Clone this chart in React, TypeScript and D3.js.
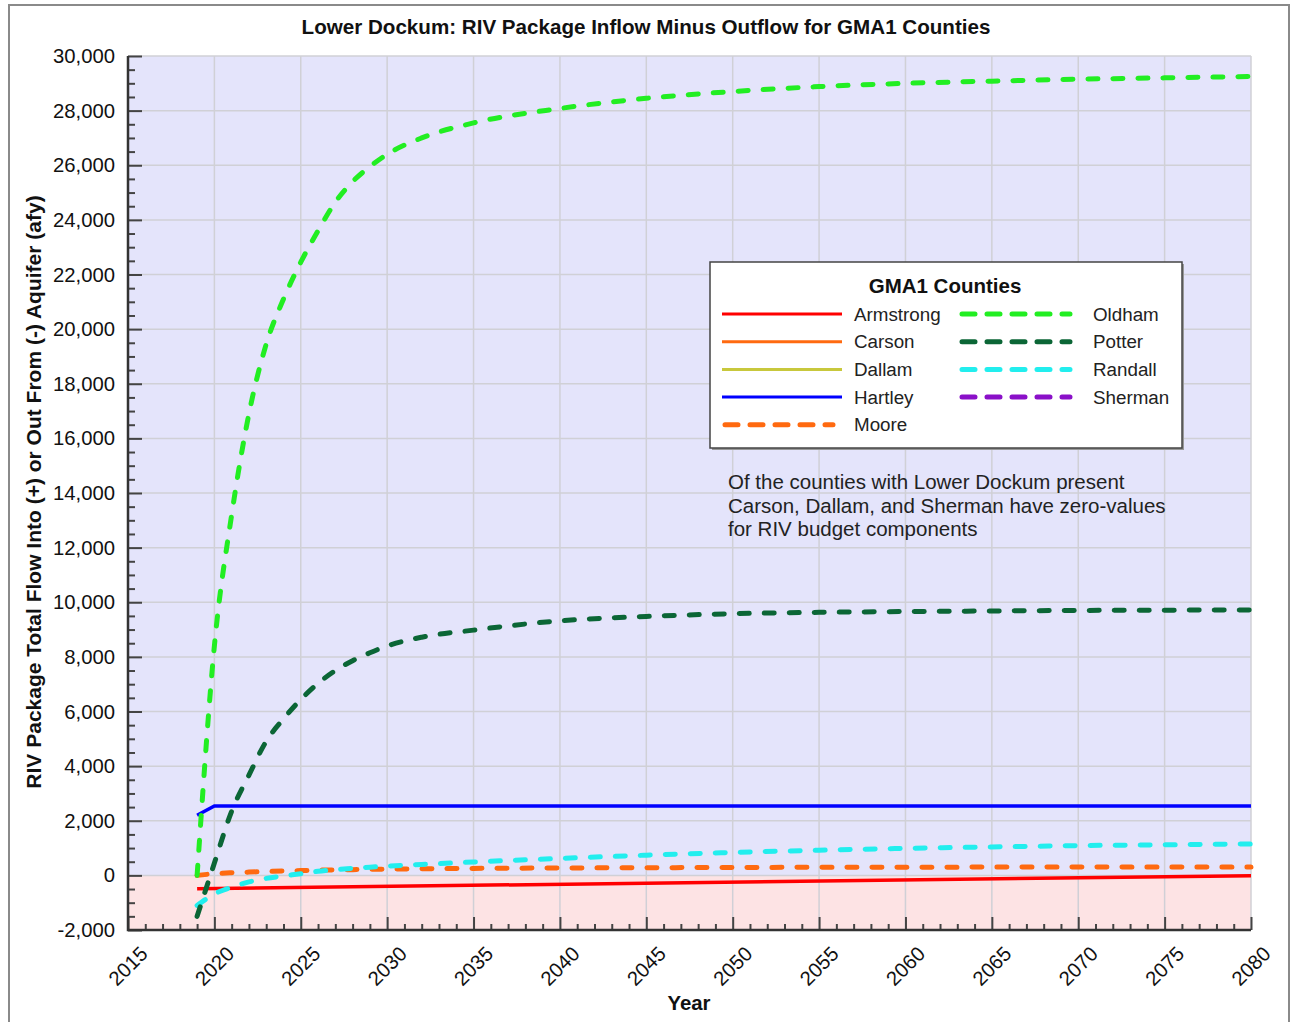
import React, { useEffect, useRef } from 'react'
import * as d3 from 'd3'

// sample years shared by the curved series
const years = [2019, 2020, 2021, 2022, 2023, 2024, 2025, 2026, 2027, 2028, 2029, 2030,
  2032, 2035, 2040, 2045, 2050, 2055, 2060, 2065, 2070, 2075, 2080]

const oldham = [0, 8400, 13200, 16900, 19450, 21100, 22450, 23600, 24650, 25400, 25950, 26400,
  27000, 27550, 28080, 28450, 28700, 28880, 29000, 29080, 29150, 29200, 29250]
const potter = [-1500, 450, 2350, 3670, 4910, 5730, 6440, 7030, 7500, 7860, 8150, 8400,
  8720, 8980, 9320, 9480, 9580, 9630, 9660, 9680, 9700, 9710, 9720]
const randall = [-1100, -680, -430, -240, -110, -20, 60, 150, 210, 260, 300, 340,
  400, 490, 620, 740, 840, 920, 990, 1040, 1090, 1120, 1150]
const moore = [0, 60, 95, 120, 140, 160, 175, 190, 200, 210, 220, 230,
  240, 255, 270, 280, 290, 295, 300, 303, 306, 308, 310]

const armstrongYears = [2019, 2080]
const armstrong = [-490, -10]
const hartleyYears = [2019, 2020, 2080]
const hartley = [2200, 2540, 2540]

const leftLegend = ['Armstrong', 'Carson', 'Dallam', 'Hartley', 'Moore']
const rightLegend = ['Oldham', 'Potter', 'Randall', 'Sherman']

const yTicks = [-2000, 0, 2000, 4000, 6000, 8000, 10000, 12000, 14000, 16000, 18000, 20000,
  22000, 24000, 26000, 28000, 30000]
const xTicks = [2015, 2020, 2025, 2030, 2035, 2040, 2045, 2050, 2055, 2060, 2065, 2070, 2075, 2080]

const noteLines = [
  'Of the counties with Lower Dockum present',
  'Carson, Dallam, and Sherman have zero-values',
  'for RIV budget components',
]

const colors: Record<string, string> = {
  Armstrong: '#ff0000',
  Carson: '#ff6a10',
  Dallam: '#c8c83c',
  Hartley: '#0000ff',
  Moore: '#ff6a10',
  Oldham: '#22ee22',
  Potter: '#0b6636',
  Randall: '#22eeee',
  Sherman: '#8a10c8',
}
const dashed = new Set(['Moore', 'Oldham', 'Potter', 'Randall', 'Sherman'])

const W = 1291
const H = 1022
const FONT = '"Liberation Sans", Arial, Helvetica, sans-serif'

export default function App() {
  const ref = useRef<SVGSVGElement>(null)

  useEffect(() => {
    const svg = d3.select(ref.current)
    svg.selectAll('*').remove()

    const x = d3.scaleLinear().domain([2015, 2080]).range([128, 1251])
    const y = d3.scaleLinear().domain([-2000, 30000]).range([930, 56])

    // outer frame
    svg.append('rect').attr('x', 9).attr('y', 5).attr('width', 1280).attr('height', 1030)
      .attr('fill', 'white').attr('stroke', '#8a8a8a').attr('stroke-width', 2)

    // plot backgrounds
    svg.append('rect').attr('x', x(2015)).attr('y', y(30000))
      .attr('width', x(2080) - x(2015)).attr('height', y(0) - y(30000)).attr('fill', '#e4e4fb')
    svg.append('rect').attr('x', x(2015)).attr('y', y(0))
      .attr('width', x(2080) - x(2015)).attr('height', y(-2000) - y(0)).attr('fill', '#fde3e4')

    // grid
    const grid = svg.append('g').attr('stroke', '#d0d0d6').attr('stroke-width', 1.5)
    grid.selectAll('line.h').data(yTicks.slice(1)).enter().append('line')
      .attr('x1', x(2015)).attr('x2', x(2080)).attr('y1', d => y(d)).attr('y2', d => y(d))
    grid.selectAll('line.v').data(xTicks.slice(1)).enter().append('line')
      .attr('x1', d => x(d)).attr('x2', d => x(d)).attr('y1', y(30000)).attr('y2', y(-2000))

    // axes
    const yAxis = svg.append('g').attr('transform', `translate(${x(2015)},0)`)
      .call(d3.axisRight(y).tickValues(d3.range(-2000, 30001, 500)).tickSize(7).tickFormat(() => ''))
    yAxis.selectAll('.tick line').filter((d: any) => d % 2000 === 0).attr('x2', 14)
    yAxis.selectAll('.tick line').attr('stroke', '#444').attr('stroke-width', 2)
    yAxis.select('.domain').remove()

    const xAxis = svg.append('g').attr('transform', `translate(0,${y(-2000)})`)
      .call(d3.axisTop(x).tickValues(d3.range(2015, 2081, 1)).tickSize(6).tickFormat(() => ''))
    xAxis.selectAll('.tick line').filter((d: any) => d % 5 === 0).attr('y2', -13)
    xAxis.selectAll('.tick line').attr('stroke', '#444').attr('stroke-width', 2)
    xAxis.select('.domain').remove()

    svg.append('path')
      .attr('d', `M${x(2015)},${y(30000)}V${y(-2000)}H${x(2080)}`)
      .attr('fill', 'none').attr('stroke', '#333').attr('stroke-width', 2.5)

    // tick labels
    svg.append('g').selectAll('text').data(yTicks).enter().append('text')
      .attr('x', 115).attr('y', d => y(d)).attr('dy', '0.35em').attr('text-anchor', 'end')
      .attr('font-family', FONT).attr('font-size', 20.3).attr('fill', '#111')
      .text(d => d.toLocaleString('en-US'))

    svg.append('g').selectAll('text').data(xTicks).enter().append('text')
      .attr('transform', d => `translate(${x(d)},${966}) rotate(-45)`)
      .attr('text-anchor', 'middle').attr('dy', '0.35em')
      .attr('font-family', FONT).attr('font-size', 20.3).attr('fill', '#111')
      .text(d => String(d))

    // series
    const smooth = d3.line<[number, number]>().x(d => x(d[0])).y(d => y(d[1])).curve(d3.curveMonotoneX)
    const straight = d3.line<[number, number]>().x(d => x(d[0])).y(d => y(d[1]))
    const series: [string, number[], number[]][] = [
      ['Armstrong', armstrongYears, armstrong],
      ['Hartley', hartleyYears, hartley],
      ['Moore', years, moore],
      ['Randall', years, randall],
      ['Oldham', years, oldham],
      ['Potter', years, potter],
    ]
    series.forEach(([name, xs, vs]) => {
      const pts = xs.map((yr, i) => [yr, vs[i]] as [number, number])
      const p = svg.append('path').datum(pts)
        .attr('fill', 'none').attr('stroke', colors[name])
      if (dashed.has(name)) {
        p.attr('d', smooth).attr('stroke-width', 5).attr('stroke-dasharray', '10 15').attr('stroke-linecap', 'round')
      } else {
        p.attr('d', straight).attr('stroke-width', 3.5)
      }
    })

    // legend
    const lg = svg.append('g')
    lg.append('rect').attr('x', 712).attr('y', 264).attr('width', 472).attr('height', 186).attr('fill', '#999')
    lg.append('rect').attr('x', 710).attr('y', 262).attr('width', 472).attr('height', 186)
      .attr('fill', 'white').attr('stroke', '#444').attr('stroke-width', 1.5)
    lg.append('text').attr('x', 945).attr('y', 293).attr('text-anchor', 'middle')
      .attr('font-family', FONT).attr('font-size', 20.5).attr('font-weight', 'bold').attr('fill', '#111')
      .text('GMA1 Counties')

    const rowY = (i: number) => 314 + i * 27.7
    const drawItem = (name: string, i: number, x1: number, x2: number, tx: number) => {
      const l = lg.append('line').attr('x1', x1).attr('x2', x2).attr('y1', rowY(i)).attr('y2', rowY(i))
        .attr('stroke', colors[name])
      if (dashed.has(name)) {
        l.attr('stroke-width', 5).attr('stroke-dasharray', '13 12').attr('stroke-linecap', 'round')
      } else {
        l.attr('stroke-width', 3)
      }
      lg.append('text').attr('x', tx).attr('y', rowY(i)).attr('dy', '0.35em')
        .attr('font-family', FONT).attr('font-size', 18.8).attr('fill', '#222').text(name)
    }
    leftLegend.forEach((n, i) => drawItem(n, i, n === 'Moore' ? 725 : 722, n === 'Moore' ? 833 : 842, 854))
    rightLegend.forEach((n, i) => drawItem(n, i, 962, 1070, 1093))

    // note
    svg.append('g').selectAll('text').data(noteLines).enter().append('text')
      .attr('x', 728).attr('y', (_, i) => 489 + i * 23.5)
      .attr('font-family', FONT).attr('font-size', 20.5).attr('fill', '#222')
      .text(d => d)

    // titles
    svg.append('text').attr('x', 646).attr('y', 34).attr('text-anchor', 'middle')
      .attr('font-family', FONT).attr('font-size', 20.6).attr('font-weight', 'bold').attr('fill', '#111')
      .text('Lower Dockum: RIV Package Inflow Minus Outflow for GMA1 Counties')
    svg.append('text').attr('x', 689).attr('y', 1010).attr('text-anchor', 'middle')
      .attr('font-family', FONT).attr('font-size', 20.4).attr('font-weight', 'bold').attr('fill', '#111')
      .text('Year')
    svg.append('text').attr('transform', `translate(41,${492}) rotate(-90)`).attr('text-anchor', 'middle')
      .attr('font-family', FONT).attr('font-size', 21).attr('font-weight', 'bold').attr('fill', '#111')
      .text('RIV Package Total Flow Into (+) or Out From (-) Aquifer  (afy)')
  }, [])

  return (
    <svg ref={ref} width={W} height={H}
      style={{ position: 'absolute', left: 0, top: 0, background: 'white' }} />
  )
}
